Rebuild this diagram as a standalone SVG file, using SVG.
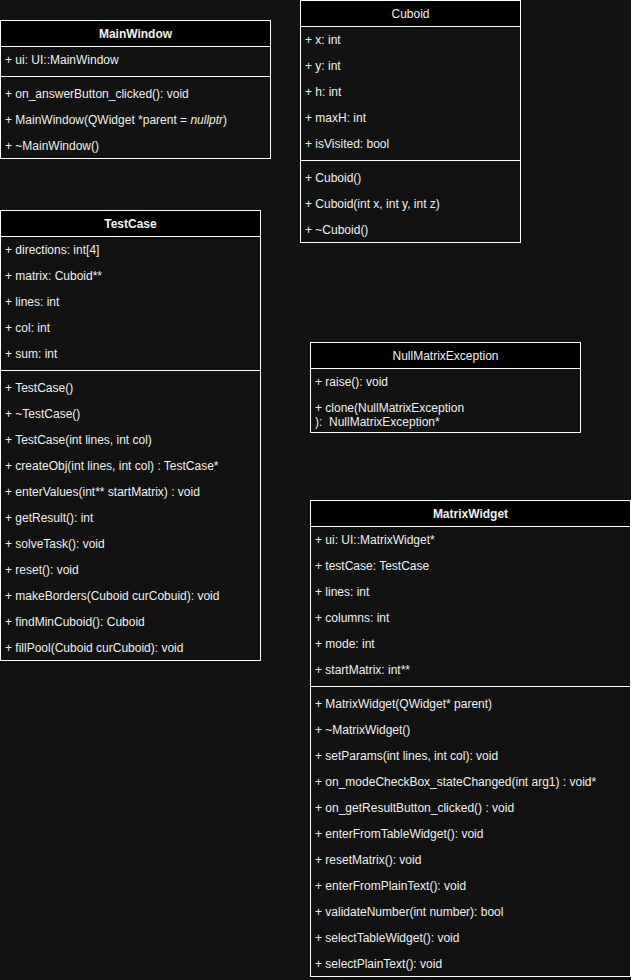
<svg xmlns="http://www.w3.org/2000/svg" width="631" height="980" viewBox="0 0 631 980">
  <style>
    .box { fill: #121212; stroke: #ffffff; stroke-width: 1; }
    .head { fill: #000000; stroke: #ffffff; stroke-width: 1; }
    .sep { stroke: #ffffff; stroke-width: 1; }
    text { font-family: "Liberation Sans", Arial, sans-serif; font-size: 12px; fill: #f0f0f0; white-space: pre; }
    .title { text-anchor: middle; }
    .bold { font-weight: bold; }
  </style>
  <rect width="631" height="980" fill="#121212"/>

  <!-- MainWindow -->
  <g id="MainWindow">
    <rect class="box" x="0.5" y="20.5" width="270" height="138"/>
    <rect class="head" x="0.5" y="20.5" width="270" height="26"/>
    <text class="title bold" x="135.5" y="38">MainWindow</text>
    <text x="5" y="64">+ ui: UI::MainWindow</text>
    <line class="sep" x1="0.5" y1="76.5" x2="270.5" y2="76.5"/>
    <text x="5" y="98">+ on_answerButton_clicked(): void</text>
    <text x="5" y="124">+ MainWindow(QWidget *parent = <tspan font-style="italic">nullptr</tspan>)</text>
    <text x="5" y="150">+ ~MainWindow()</text>
  </g>

  <!-- Cuboid -->
  <g id="Cuboid">
    <rect class="box" x="300.5" y="0.5" width="220" height="242"/>
    <rect class="head" x="300.5" y="0.5" width="220" height="26"/>
    <text class="title" x="410.5" y="18">Cuboid</text>
    <text x="305" y="44">+ x: int</text>
    <text x="305" y="70">+ y: int</text>
    <text x="305" y="96">+ h: int</text>
    <text x="305" y="122">+ maxH: int</text>
    <text x="305" y="148">+ isVisited: bool</text>
    <line class="sep" x1="300.5" y1="160.5" x2="520.5" y2="160.5"/>
    <text x="305" y="182">+ Cuboid()</text>
    <text x="305" y="208">+ Cuboid(int x, int y, int z)</text>
    <text x="305" y="234">+ ~Cuboid()</text>
  </g>

  <!-- TestCase -->
  <g id="TestCase">
    <rect class="box" x="0.5" y="210.5" width="260" height="450"/>
    <rect class="head" x="0.5" y="210.5" width="260" height="26"/>
    <text class="title bold" x="130.5" y="228">TestCase</text>
    <text x="5" y="254">+ directions: int[4]</text>
    <text x="5" y="280">+ matrix: Cuboid**</text>
    <text x="5" y="306">+ lines: int</text>
    <text x="5" y="332">+ col: int</text>
    <text x="5" y="358">+ sum: int</text>
    <line class="sep" x1="0.5" y1="370.5" x2="260.5" y2="370.5"/>
    <text x="5" y="392">+ TestCase()</text>
    <text x="5" y="418">+ ~TestCase()</text>
    <text x="5" y="444">+ TestCase(int lines, int col)</text>
    <text x="5" y="470">+ createObj(int lines, int col) : TestCase*</text>
    <text x="5" y="496">+ enterValues(int** startMatrix) : void</text>
    <text x="5" y="522">+ getResult(): int</text>
    <text x="5" y="548">+ solveTask(): void</text>
    <text x="5" y="574">+ reset(): void</text>
    <text x="5" y="600">+ makeBorders(Cuboid curCobuid): void</text>
    <text x="5" y="626">+ findMinCuboid(): Cuboid</text>
    <text x="5" y="652">+ fillPool(Cuboid curCuboid): void</text>
  </g>

  <!-- NullMatrixException -->
  <g id="NullMatrixException">
    <rect class="box" x="310.5" y="342.5" width="270" height="90"/>
    <rect class="head" x="310.5" y="342.5" width="270" height="26"/>
    <text class="title" x="445.5" y="360">NullMatrixException</text>
    <text x="315" y="386">+ raise(): void</text>
    <text x="315" y="412">+ clone(NullMatrixException</text>
    <text x="315" y="426" xml:space="preserve">):  NullMatrixException*</text>
  </g>

  <!-- MatrixWidget -->
  <g id="MatrixWidget">
    <rect class="box" x="310.5" y="500.5" width="320" height="476"/>
    <rect class="head" x="310.5" y="500.5" width="320" height="26"/>
    <text class="title bold" x="470.5" y="518">MatrixWidget</text>
    <text x="315" y="544">+ ui: UI::MatrixWidget*</text>
    <text x="315" y="570">+ testCase: TestCase</text>
    <text x="315" y="596">+ lines: int</text>
    <text x="315" y="622">+ columns: int</text>
    <text x="315" y="648">+ mode: int</text>
    <text x="315" y="674">+ startMatrix: int**</text>
    <line class="sep" x1="310.5" y1="686.5" x2="630.5" y2="686.5"/>
    <text x="315" y="708">+ MatrixWidget(QWidget* parent)</text>
    <text x="315" y="734">+ ~MatrixWidget()</text>
    <text x="315" y="760">+ setParams(int lines, int col): void</text>
    <text x="315" y="786">+ on_modeCheckBox_stateChanged(int arg1) : void*</text>
    <text x="315" y="812">+ on_getResultButton_clicked() : void</text>
    <text x="315" y="838">+ enterFromTableWidget(): void</text>
    <text x="315" y="864">+ resetMatrix(): void</text>
    <text x="315" y="890">+ enterFromPlainText(): void</text>
    <text x="315" y="916">+ validateNumber(int number): bool</text>
    <text x="315" y="942">+ selectTableWidget(): void</text>
    <text x="315" y="968">+ selectPlainText(): void</text>
  </g>

  <g id="connectors"></g>
</svg>
